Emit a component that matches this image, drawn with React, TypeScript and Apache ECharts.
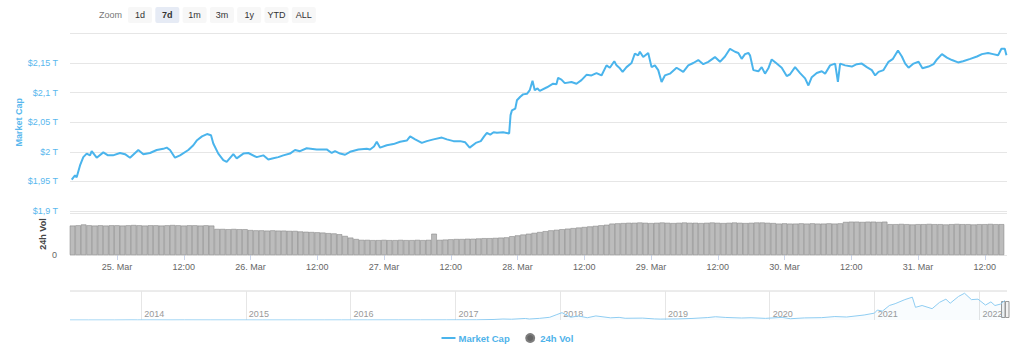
import React, { useEffect, useRef } from "react";
import * as echarts from "echarts";

// ---------- DATA ----------
// Market cap (trillion USD), time given as hours since 25 Mar 2022 00:00 UTC
const capHours = [
  -8.14, -7.55, -7.25, -6.65, -6.06, -5.45, -4.85, -4.55, -3.65, -2.46,
  -1.62, -0.72, 0.54, 1.44, 2.34, 3.83, 4.73, 5.93, 7.14, 8.32,
  8.94, 9.53, 10.43, 11.33, 12.82, 13.72, 14.33, 15.28, 16.18, 16.9,
  17.31, 18.21, 19.11, 19.72, 20.91, 21.52, 22.71, 23.61, 25.12, 26.3,
  27.2, 28.1, 29.0, 29.9, 31.1, 32.0, 32.9, 34.1, 35.9, 37.7,
  38.6, 39.2, 40.1, 41.0, 41.9, 43.4, 44.9, 45.5, 46.2, 46.7,
  47.3, 48.5, 49.7, 50.9, 52.1, 52.7, 53.6, 54.8, 55.7, 56.9,
  58.4, 59.3, 60.5, 61.7, 62.6, 63.4, 64.5, 65.4, 66.0, 66.5,
  67.1, 67.7, 68.3, 69.4, 70.5, 70.75, 71.0, 71.6, 71.9, 72.5,
  73.0, 73.7, 74.2, 74.7, 75.1, 75.6, 76.0, 77.3, 78.4, 79.0,
  79.3, 79.9, 80.5, 81.7, 82.6, 83.5, 84.4, 85.3, 86.2, 87.1,
  88.0, 88.6, 89.4, 89.8, 90.4, 90.9, 91.6, 92.5, 93.1, 93.7,
  94.0, 94.6, 95.5, 96.1, 96.7, 97.3, 97.9, 98.5, 99.4, 100.6,
  101.8, 102.7, 103.6, 104.5, 105.4, 106.3, 107.5, 108.4, 109.3, 110.2,
  111.1, 111.7, 112.3, 112.9, 113.5, 113.8, 114.4, 115.3, 115.9, 116.5,
  117.1, 117.7, 118.6, 119.5, 120.4, 121.0, 121.9, 122.8, 123.7, 124.3,
  124.9, 125.8, 126.7, 127.3, 128.2, 129.1, 129.6, 130.0, 130.9, 132.1,
  133.0, 133.9, 134.8, 135.7, 136.3, 136.9, 137.8, 138.7, 139.5, 140.4,
  141.1, 141.7, 142.3, 143.2, 144.1, 144.8, 145.9, 146.8, 147.4, 148.3,
  149.2, 150.1, 151.2, 152.1, 153.4, 154.6, 155.5, 156.6, 157.5, 158.4,
  159.0, 159.6, 159.9,
];
const capValues = [
  1.953, 1.96, 1.957, 1.977, 1.991, 1.997, 1.994, 2.001, 1.99, 1.999,
  1.994, 1.994, 1.998, 1.996, 1.99, 2.003, 1.996, 1.998, 2.003, 2.005,
  2.007, 2.003, 1.99, 1.994, 2.003, 2.011, 2.019, 2.026, 2.03, 2.028,
  2.014, 1.997, 1.986, 1.983, 1.996, 1.989, 1.997, 1.998, 1.991, 1.994,
  1.987, 1.989, 1.991, 1.994, 1.997, 2.003, 2.001, 2.006, 2.004, 2.004,
  1.998, 2.001, 1.997, 1.995, 2.0, 2.004, 2.005, 2.004, 2.009, 2.017,
  2.007, 2.011, 2.013, 2.017, 2.019, 2.026, 2.021, 2.015, 2.018, 2.021,
  2.024, 2.021, 2.018, 2.018, 2.016, 2.007, 2.015, 2.018, 2.026, 2.032,
  2.029, 2.033, 2.032, 2.033, 2.031, 2.062, 2.07, 2.073, 2.087, 2.093,
  2.097, 2.098, 2.104, 2.12, 2.104, 2.107, 2.103, 2.109, 2.115, 2.114,
  2.125, 2.122, 2.116, 2.118, 2.115, 2.121, 2.13, 2.129, 2.133, 2.129,
  2.146, 2.142, 2.153, 2.146, 2.141, 2.135, 2.143, 2.15, 2.166, 2.163,
  2.169, 2.16, 2.167, 2.143, 2.146, 2.138, 2.118, 2.129, 2.132, 2.142,
  2.135, 2.146, 2.15, 2.155, 2.148, 2.152, 2.16, 2.152, 2.161, 2.174,
  2.169, 2.167, 2.157, 2.165, 2.167, 2.163, 2.138, 2.136, 2.143, 2.132,
  2.141, 2.156, 2.149, 2.142, 2.128, 2.131, 2.143, 2.133, 2.124, 2.112,
  2.126, 2.133, 2.136, 2.132, 2.146, 2.149, 2.118, 2.149, 2.146, 2.144,
  2.148, 2.149, 2.143, 2.138, 2.129, 2.135, 2.138, 2.152, 2.157, 2.171,
  2.161, 2.149, 2.142, 2.149, 2.152, 2.141, 2.144, 2.148, 2.156, 2.165,
  2.159, 2.155, 2.151, 2.153, 2.157, 2.161, 2.165, 2.167, 2.165, 2.163,
  2.174, 2.174, 2.163,
];

// 24h volume (billion USD), one bar per hour starting at hour -8
const volStartHour = -8;
const volValues = [
  105, 106, 109, 106, 105, 106, 105, 106,
  106, 105, 106, 107, 106, 105, 106, 106, 105, 106, 107, 106, 105, 106, 106, 105, 106, 105,
  93, 93, 92, 93, 92, 92,
  89, 88, 88, 87, 88, 87, 87, 86, 86,
  84, 83, 82, 81, 80, 78, 77,
  74, 68, 62, 57,
  54, 54, 53, 53, 54, 53, 53, 54, 53, 53, 54, 53, 54, 76, 54, 55,
  56, 57, 57, 58, 58, 59, 60, 60, 61, 62, 63,
  67, 70, 73, 76, 79, 82, 85, 88,
  90, 92, 94, 96, 98, 100, 102, 104, 106, 108,
  112, 113, 114, 115, 115, 116, 115, 114, 115, 116, 115, 114, 115, 116, 115,
  115, 114, 115, 116, 115, 114, 115, 116, 115, 114, 115, 116, 116, 115, 114,
  112, 113, 112, 112, 113, 112, 113, 112, 112, 113, 112, 113,
  118, 119, 119, 118, 119, 119, 118, 119,
  110, 110, 111, 110, 109, 110, 110, 111, 110, 110, 109, 110, 111, 110, 110,
  109, 110, 110, 111, 110, 110,
];

// Navigator: full history of total market cap (trillion USD)
const navDates = [
  "2013-04-28", "2013-07-01", "2013-10-01", "2013-11-30", "2013-12-20", "2014-02-01",
  "2014-04-15", "2014-06-01", "2014-09-01", "2014-12-01", "2015-03-01", "2015-07-01",
  "2015-10-01", "2015-12-01", "2016-03-01", "2016-06-15", "2016-09-01", "2016-12-01",
  "2017-01-05", "2017-03-15", "2017-05-15", "2017-06-15", "2017-07-15", "2017-09-01",
  "2017-09-15", "2017-10-20", "2017-11-25", "2017-12-20", "2018-01-07", "2018-02-06",
  "2018-03-05", "2018-04-05", "2018-05-05", "2018-06-25", "2018-07-25", "2018-08-15",
  "2018-10-15", "2018-11-25", "2018-12-15", "2019-02-15", "2019-04-05", "2019-05-30",
  "2019-06-26", "2019-08-01", "2019-09-25", "2019-10-28", "2019-12-17", "2020-02-13",
  "2020-03-13", "2020-05-01", "2020-06-30", "2020-08-15", "2020-09-25", "2020-11-25",
  "2020-12-31", "2021-01-10", "2021-01-28", "2021-02-21", "2021-03-13", "2021-04-16",
  "2021-05-12", "2021-05-23", "2021-06-15", "2021-07-20", "2021-08-15", "2021-09-06",
  "2021-09-21", "2021-10-20", "2021-11-10", "2021-12-04", "2021-12-27", "2022-01-22",
  "2022-02-10", "2022-02-24", "2022-03-15", "2022-03-31",
];
const navValues = [
  0.0015, 0.0011, 0.0016, 0.013, 0.008, 0.011,
  0.0065, 0.009, 0.0065, 0.0055, 0.0042, 0.0045,
  0.0037, 0.0065, 0.0075, 0.012, 0.011, 0.014,
  0.018, 0.022, 0.06, 0.11, 0.085, 0.17,
  0.11, 0.18, 0.3, 0.6, 0.81, 0.3,
  0.45, 0.25, 0.45, 0.24, 0.29, 0.19,
  0.21, 0.12, 0.1, 0.12, 0.17, 0.27,
  0.36, 0.28, 0.22, 0.25, 0.18, 0.29,
  0.14, 0.23, 0.26, 0.38, 0.33, 0.55,
  0.76, 1.1, 0.98, 1.6, 1.8, 2.25,
  2.52, 1.4, 1.6, 1.25, 1.95, 2.3,
  1.85, 2.6, 2.95, 2.25, 2.3, 1.65,
  2.0, 1.6, 1.75, 2.16,
];

const xLabelHours = [0, 12, 24, 36, 48, 60, 72, 84, 96, 108, 120, 132, 144, 156];
const navYears = [2014, 2015, 2016, 2017, 2018, 2019, 2020, 2021, 2022];
const zoomButtons = ["1d", "7d", "1m", "3m", "1y", "YTD", "ALL"];
const selectedZoom = "7d";
const monthNames = ["Jan", "Feb", "Mar", "Apr", "May", "Jun", "Jul", "Aug", "Sep", "Oct", "Nov", "Dec"];

const BASE = Date.UTC(2022, 2, 25);
const HOUR = 3600000;

export default function App() {
  const ref = useRef<HTMLDivElement>(null);

  useEffect(() => {
    if (!ref.current) return;
    const chart = echarts.init(ref.current, null, { renderer: "svg" });
    const font = '"Lucida Grande", "Lucida Sans Unicode", Arial, Helvetica, sans-serif';
    const blue = "#4ab4ec";
    const labelBlue = "#5ab8ee";

    const n = Math.min(capHours.length, capValues.length);
    const capData = [] as any[];
    for (let i = 0; i < n; i++) capData.push([BASE + capHours[i] * HOUR, capValues[i]]);
    const volData = volValues.map((v, i) => [BASE + (volStartHour + i) * HOUR, v]);
    const navData = navDates.map((d, i) => [Date.parse(d), navValues[i]]);

    const xMin = BASE - 8.45 * HOUR;
    const xMax = BASE + 160 * HOUR;
    const tickVals = xLabelHours.map((h) => BASE + h * HOUR);
    const yearVals = navYears.map((y) => Date.UTC(y, 0, 1));
    const navMin = Date.parse("2013-04-28");
    const navMax = Date.parse("2022-04-07");

    const graphics: any[] = [
      {
        type: "text",
        x: 99,
        y: 15,
        style: { text: "Zoom", fill: "#777", font: `9px ${font}`, align: "left", verticalAlign: "middle" },
      },
    ];
    zoomButtons.forEach((b, i) => {
      const x = 128 + i * 27.3;
      const sel = b === selectedZoom;
      graphics.push({
        type: "rect",
        shape: { x, y: 7, width: 24, height: 16, r: 2 },
        style: { fill: sel ? "#e6ebf5" : "#f7f7f7" },
      });
      graphics.push({
        type: "text",
        x: x + 12,
        y: 15,
        style: {
          text: b,
          fill: "#333",
          font: `${sel ? "bold " : ""}9px ${font}`,
          align: "center",
          verticalAlign: "middle",
        },
      });
    });
    // navigator outline and handles
    graphics.push({
      type: "line",
      shape: { x1: 70, y1: 291, x2: 1007, y2: 291 },
      style: { stroke: "#d8d8d8", lineWidth: 1 },
    });
    [1001, 1005].forEach((hx) => {
      graphics.push({
        type: "rect",
        shape: { x: hx + 0.5, y: 301.5, width: 3.5, height: 16 },
        style: { fill: "#f2f2f2", stroke: "#999", lineWidth: 1 },
      });
    });

    chart.setOption({
      animation: false,
      textStyle: { fontFamily: font },
      grid: [
        { left: 70, top: 33.4, width: 937, height: 177.6 },
        { left: 70, top: 213, width: 937, height: 42 },
        { left: 70, top: 291, width: 937, height: 29 },
      ],
      xAxis: [
        { type: "value", gridIndex: 0, min: xMin, max: xMax, show: false },
        {
          type: "value",
          gridIndex: 1,
          min: xMin,
          max: xMax,
          axisLine: { show: false },
          axisTick: { show: true, customValues: tickVals, length: 5, lineStyle: { color: "#ccd6eb" } },
          axisLabel: {
            customValues: tickVals,
            color: "#666",
            fontSize: 9,
            margin: 7,
            formatter: (v: number) => {
              const d = new Date(v);
              if (d.getUTCHours() === 12) return "12:00";
              return `${d.getUTCDate()}. ${monthNames[d.getUTCMonth()]}`;
            },
          },
          splitLine: { show: false },
        },
        {
          type: "value",
          gridIndex: 2,
          min: navMin,
          max: navMax,
          axisLine: { show: false },
          axisTick: { show: false, customValues: yearVals },
          axisLabel: {
            customValues: yearVals,
            inside: true,
            margin: 2,
            align: "left",
            verticalAlign: "bottom",
            padding: [0, 0, 0, 3],
            color: "#999",
            fontSize: 9,
            formatter: (v: number) => String(new Date(v).getUTCFullYear()),
          },
          splitLine: { show: true, lineStyle: { color: "#e6e6e6" } },
        },
      ],
      yAxis: [
        {
          type: "value",
          gridIndex: 0,
          min: 1.9,
          max: 2.2,
          interval: 0.05,
          name: "Market Cap",
          nameLocation: "middle",
          nameRotate: 90,
          nameGap: 51.5,
          nameMoveOverlap: false,
          nameTextStyle: {
            color: labelBlue,
            fontSize: 9,
            fontWeight: "bold",
            align: "center",
            verticalAlign: "middle",
          },
          axisLine: { show: false },
          axisTick: { show: false },
          axisLabel: {
            color: labelBlue,
            fontSize: 9,
            margin: 12,
            formatter: (v: number) =>
              v > 2.19 ? "" : "$" + String(Math.round(v * 100) / 100).replace(".", ",") + " T",
          },
          splitLine: { lineStyle: { color: "#e6e6e6" } },
        },
        {
          type: "value",
          gridIndex: 1,
          min: 0,
          max: 150,
          interval: 150,
          name: "24h Vol",
          nameLocation: "middle",
          nameRotate: 90,
          nameGap: 27.5,
          nameMoveOverlap: false,
          nameTextStyle: {
            color: "#444",
            fontSize: 9,
            fontWeight: "bold",
            align: "center",
            verticalAlign: "middle",
          },
          axisLine: { show: false },
          axisTick: { show: false },
          axisLabel: {
            color: "#666",
            fontSize: 9,
            margin: 13,
            formatter: (v: number) => (v === 0 ? "0" : ""),
          },
          splitLine: { lineStyle: { color: "#e6e6e6" } },
        },
        { type: "value", gridIndex: 2, min: 0, max: 3.2, show: false },
      ],
      legend: {
        data: [
          { name: "Market Cap", itemStyle: { opacity: 0 } },
          { name: "24h Vol", icon: "circle", itemStyle: { color: "#666" } },
        ],
        left: 440.5,
        top: 333,
        padding: 0,
        itemWidth: 14,
        itemHeight: 8,
        itemGap: 15.5,
        selectedMode: false,
        textStyle: {
          color: "#4fb3ea",
          fontSize: 9.5,
          fontWeight: "bold",
          fontFamily: font,
          padding: [0, 0, 0, -2],
        },
      },
      series: [
        {
          name: "Market Cap",
          type: "line",
          xAxisIndex: 0,
          yAxisIndex: 0,
          data: capData,
          symbol: "none",
          lineStyle: { color: blue, width: 2 },
          itemStyle: { color: blue },
        },
        {
          name: "24h Vol",
          type: "bar",
          xAxisIndex: 1,
          yAxisIndex: 1,
          data: volData,
          barWidth: 5.5,
          itemStyle: { color: "#bcbcbc", borderColor: "#7d7d7d", borderWidth: 0.5 },
        },
        {
          name: "navigator",
          type: "line",
          xAxisIndex: 2,
          yAxisIndex: 2,
          data: navData,
          symbol: "none",
          silent: true,
          lineStyle: { color: "#8fcdf2", width: 1 },
          areaStyle: { color: "rgba(74,180,236,0.05)" },
        },
      ],
      graphic: graphics,
    });

    return () => chart.dispose();
  }, []);

  return (
    <div
      ref={ref}
      style={{ position: "absolute", left: 0, top: 0, width: 1024, height: 347, background: "#fff" }}
    />
  );
}
